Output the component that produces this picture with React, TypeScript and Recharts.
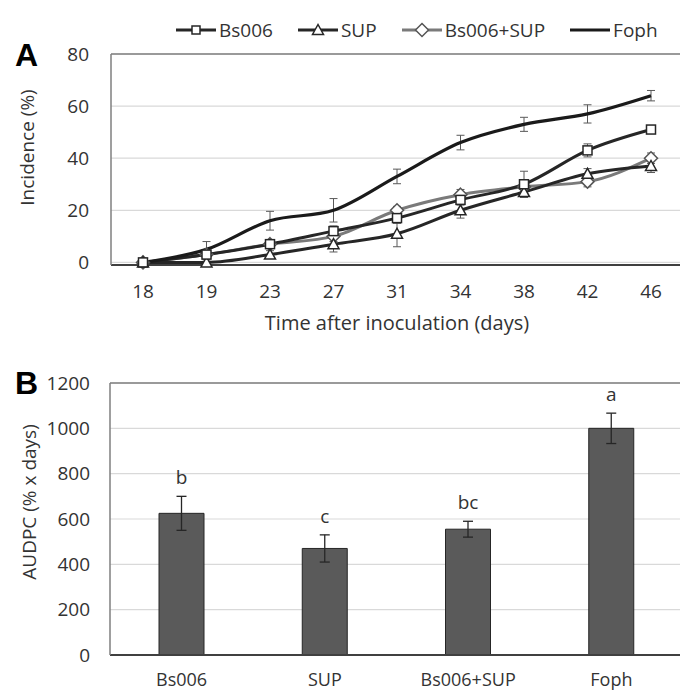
import {
  LineChart, Line, BarChart, Bar, XAxis, YAxis, CartesianGrid, ErrorBar,
  ReferenceLine, LabelList,
} from 'recharts';

// Panel A: incidence over time
const days = ['18', '19', '23', '27', '31', '34', '38', '42', '46'];
const bs006 = [0, 3, 7, 12, 17, 24, 30, 43, 51];
const bs006Err = [0, 1.5, 1.5, 2, 2, 2, 5, 2.5, 1];
const sup = [0, 0, 3, 7, 11, 20, 27, 34, 37];
const supErr = [0, 1, 1.5, 3, 5, 3, 2, 2, 2.5];
const combo = [0, 3, 7, 10, 20, 26, 29, 31, 40];
const comboErr = [0, 1, 1.5, 2, 1.5, 2, 2, 2, 2];
const foph = [0, 5, 16, 20, 33, 46, 53, 57, 64];
const fophErr = [0, 3, 3.6, 4.5, 2.8, 2.8, 2.7, 3.5, 2];
const incidenceTicks = [0, 20, 40, 60, 80];

// Panel B: AUDPC
const treatments = ['Bs006', 'SUP', 'Bs006+SUP', 'Foph'];
const audpc = [625, 470, 555, 1000];
const audpcErr = [75, 60, 35, 67];
const letters = ['b', 'c', 'bc', 'a'];
const audpcTicks = [0, 200, 400, 600, 800, 1000, 1200];

const lineData = days.map((d, i) => ({
  day: d,
  bs006: bs006[i], bs006Err: bs006Err[i],
  sup: sup[i], supErr: supErr[i],
  combo: combo[i], comboErr: comboErr[i],
  foph: foph[i], fophErr: fophErr[i],
}));

const barData = treatments.map((t, i) => ({
  name: t, audpc: audpc[i], err: audpcErr[i], letter: letters[i],
}));

const FONT = '"Open Sans", sans-serif';
const TEXT = '#333333';
const DARK = '#262626';
const GRAY = '#7a7a7a';

const Square = ({ cx, cy, size = 9 }: any) =>
  cx == null ? null : (
    <rect x={cx - size / 2} y={cy - size / 2} width={size} height={size}
      fill="#fff" stroke={DARK} strokeWidth={1.5} />
  );

const Triangle = ({ cx, cy }: any) =>
  cx == null ? null : (
    <polygon points={`${cx},${cy - 5.5} ${cx - 5.5},${cy + 4.5} ${cx + 5.5},${cy + 4.5}`}
      fill="#fff" stroke={DARK} strokeWidth={1.5} />
  );

const Diamond = ({ cx, cy }: any) =>
  cx == null ? null : (
    <polygon points={`${cx},${cy - 6.5} ${cx + 6.5},${cy} ${cx},${cy + 6.5} ${cx - 6.5},${cy}`}
      fill="#fff" stroke="#555" strokeWidth={1.5} />
  );

function LegendItem({ label, color, marker }: { label: string; color: string; marker?: string }) {
  return (
    <span style={{ display: 'inline-flex', alignItems: 'center', marginRight: 25 }}>
      <svg width={40} height={16}>
        <line x1={0} y1={8} x2={40} y2={8} stroke={color} strokeWidth={3} />
        {marker === 'square' && <Square cx={20} cy={8} size={8} />}
        {marker === 'triangle' && <Triangle cx={20} cy={8} />}
        {marker === 'diamond' && <Diamond cx={20} cy={8} />}
      </svg>
      <span style={{ marginLeft: 3 }}>{label}</span>
    </span>
  );
}

const yLabel = (text: string, dx: number, dy: number) => (props: any) => {
  const vb = props.viewBox || {};
  const cx = (vb.x ?? 0) + dx;
  const cy = (vb.y ?? 0) + (vb.height ?? 0) / 2 + dy;
  return (
    <text x={cx} y={cy} transform={`rotate(-90, ${cx}, ${cy})`} textAnchor="middle"
      dominantBaseline="central" fill={TEXT} fontSize={19} fontFamily={FONT}>
      {text}
    </text>
  );
};

const LetterLabel = (props: any) => {
  const { x, y, width, height, index, value } = props;
  const errPx = (audpcErr[index] * height) / audpc[index];
  return (
    <text x={x + width / 2} y={y - errPx - 12} textAnchor="middle"
      fill={TEXT} fontSize={19} fontFamily={FONT}>
      {value}
    </text>
  );
};

const tickStyle = { fill: TEXT, fontSize: 19, fontFamily: FONT };

export default function App() {
  return (
    <div style={{ position: 'absolute', left: 0, top: 0, width: 680, height: 691, overflow: 'hidden', background: '#fff', fontFamily: FONT, color: TEXT }}>
      <div style={styles.legend}>
        <LegendItem label="Bs006" color={DARK} marker="square" />
        <LegendItem label="SUP" color={DARK} marker="triangle" />
        <LegendItem label="Bs006+SUP" color={GRAY} marker="diamond" />
        <LegendItem label="Foph" color="#1a1a1a" />
      </div>
      <div style={{ ...styles.panel, top: 38 }}>A</div>
      <div style={{ ...styles.panel, top: 366 }}>B</div>

      <div style={{ position: 'absolute', left: 0, top: 0 }}>
        <LineChart width={690} height={340} data={lineData} margin={{ top: 54, right: 7, bottom: 0, left: 0 }}>
          <CartesianGrid vertical={false} stroke="#d9d9d9" strokeWidth={1.2} />
          <XAxis dataKey="day" interval={0} height={75} tickLine={false} tickSize={0} tickMargin={20}
            padding={{ left: 32, right: 32 }}
            axisLine={{ stroke: '#404040', strokeWidth: 1.8 }} tick={tickStyle}
            label={{ value: 'Time after inoculation (days)', position: 'insideBottom', offset: 10, fill: TEXT, fontSize: 20, fontFamily: FONT }} />
          <YAxis domain={[0, 80]} ticks={incidenceTicks} width={111} tickLine={false} tickSize={0} tickMargin={22}
            axisLine={{ stroke: '#7f7f7f', strokeWidth: 1.5 }} tick={tickStyle}
            label={{ content: yLabel('Incidence (%)', 27, -12) }} />
          <ReferenceLine y={80} stroke="#7f7f7f" strokeWidth={1.5} />
          <Line type="monotone" dataKey="combo" stroke={GRAY} strokeWidth={3} isAnimationActive={false}
            dot={(p: any) => <Diamond key={`d${p.index}`} {...p} />}>
            <ErrorBar dataKey="comboErr" width={4} stroke="#595959" strokeWidth={1} />
          </Line>
          <Line type="monotone" dataKey="sup" stroke={DARK} strokeWidth={3} isAnimationActive={false}
            dot={(p: any) => <Triangle key={`t${p.index}`} {...p} />}>
            <ErrorBar dataKey="supErr" width={4} stroke="#595959" strokeWidth={1} />
          </Line>
          <Line type="monotone" dataKey="bs006" stroke={DARK} strokeWidth={3} isAnimationActive={false}
            dot={(p: any) => <Square key={`s${p.index}`} {...p} />}>
            <ErrorBar dataKey="bs006Err" width={4} stroke="#595959" strokeWidth={1} />
          </Line>
          <Line type="monotone" dataKey="foph" stroke="#1a1a1a" strokeWidth={3.2} dot={false} isAnimationActive={false}>
            <ErrorBar dataKey="fophErr" width={4} stroke="#595959" strokeWidth={1} />
          </Line>
        </LineChart>
      </div>

      <div style={{ position: 'absolute', left: 0, top: 340 }}>
        <BarChart width={690} height={351} data={barData} margin={{ top: 43, right: 7, bottom: 0, left: 0 }}>
          <CartesianGrid vertical={false} stroke="#d9d9d9" strokeWidth={1.2} />
          <XAxis dataKey="name" interval={0} height={36} tickLine={false} tickSize={0} tickMargin={18}
            axisLine={{ stroke: '#404040', strokeWidth: 1.8 }} tick={{ ...tickStyle, fontSize: 18 }} />
          <YAxis domain={[0, 1200]} ticks={audpcTicks} width={110} tickLine={false} tickSize={0} tickMargin={20}
            axisLine={{ stroke: '#7f7f7f', strokeWidth: 1.5 }} tick={tickStyle}
            label={{ content: yLabel('AUDPC (% x days)', 29, -17) }} />
          <ReferenceLine y={1200} stroke="#7f7f7f" strokeWidth={1.5} />
          <Bar dataKey="audpc" barSize={45} fill="#5a5a5a" stroke={DARK} strokeWidth={1} isAnimationActive={false}>
            <ErrorBar dataKey="err" width={5} stroke={DARK} strokeWidth={1.3} />
            <LabelList dataKey="letter" content={LetterLabel} />
          </Bar>
        </BarChart>
      </div>
    </div>
  );
}

const styles: Record<string, React.CSSProperties> = {
  legend: {
    position: 'absolute', left: 176, top: 18, fontSize: 19, whiteSpace: 'nowrap',
    display: 'flex', alignItems: 'center', lineHeight: '24px',
  },
  panel: {
    position: 'absolute', left: 15, fontSize: 32, fontWeight: 700,
    fontFamily: '"Liberation Sans", Arial, sans-serif', color: '#000', lineHeight: '34px',
  },
};
